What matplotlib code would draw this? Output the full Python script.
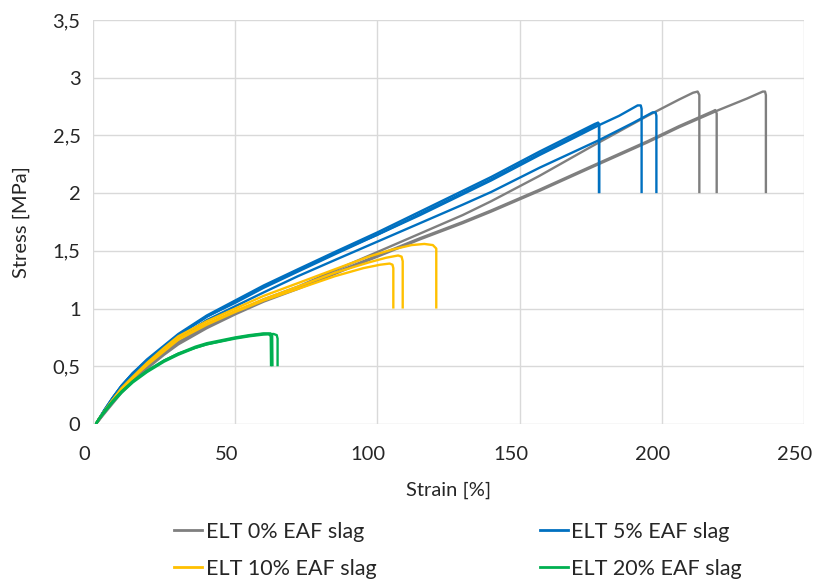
import matplotlib
matplotlib.use("Agg")
import matplotlib.pyplot as plt
import matplotlib.transforms as mtransforms
from matplotlib.ticker import FuncFormatter
from matplotlib.lines import Line2D

plt.rcParams['font.family'] = ['Lato', 'DejaVu Sans']

# ---------------- data (strain %, stress MPa) ----------------
series_labels = ["ELT 0% EAF slag", "ELT 5% EAF slag", "ELT 10% EAF slag", "ELT 20% EAF slag"]
series_colors = ["#7F7F7F", "#0070C0", "#FFC000", "#00B050"]

# ELT 0% EAF slag (3 specimens)
g1_strain = [1, 2, 4, 7, 10, 14, 19, 25, 30, 40, 50, 60, 72, 85, 100, 115, 130, 140, 157, 175, 195, 206, 211, 212.6, 213.2, 213.2]
g1_stress = [0, 0.03, 0.10, 0.20, 0.29, 0.39, 0.50, 0.62, 0.71, 0.85, 0.97, 1.08, 1.19, 1.33, 1.49, 1.65, 1.81, 1.93, 2.15, 2.40, 2.67, 2.81, 2.87, 2.88, 2.85, 2.0]
g2_strain = [1, 2, 4, 7, 10, 14, 19, 25, 30, 40, 50, 60, 72, 85, 100, 115, 130, 140, 157, 175, 195, 206, 218, 218.8, 219.3, 219.3]
g2_stress = [0, 0.03, 0.10, 0.19, 0.28, 0.38, 0.49, 0.61, 0.70, 0.84, 0.96, 1.07, 1.18, 1.31, 1.46, 1.61, 1.75, 1.85, 2.03, 2.23, 2.45, 2.58, 2.71, 2.72, 2.69, 2.0]
g3_strain = [1, 2, 4, 7, 10, 14, 19, 25, 30, 40, 50, 60, 72, 85, 100, 115, 130, 140, 157, 175, 195, 206, 220, 230, 235.5, 236.3, 236.6, 236.6]
g3_stress = [0, 0.03, 0.09, 0.18, 0.27, 0.37, 0.48, 0.60, 0.69, 0.83, 0.95, 1.06, 1.17, 1.30, 1.45, 1.60, 1.74, 1.84, 2.02, 2.22, 2.44, 2.57, 2.72, 2.82, 2.88, 2.88, 2.85, 2.0]

# ELT 5% EAF slag (4 specimens)
b1_strain = [1, 2, 4, 7, 10, 14, 19, 25, 30, 40, 50, 60, 72, 85, 100, 115, 130, 140, 157, 170, 176.5, 177.6, 177.9, 177.9]
b1_stress = [0, 0.04, 0.12, 0.23, 0.33, 0.44, 0.56, 0.68, 0.78, 0.94, 1.07, 1.20, 1.34, 1.49, 1.66, 1.84, 2.02, 2.14, 2.36, 2.52, 2.60, 2.61, 2.59, 2.0]
b2_strain = [1, 2, 4, 7, 10, 14, 19, 25, 30, 40, 50, 60, 72, 85, 100, 115, 130, 140, 157, 170, 176.5, 177.6, 178.0, 178.0]
b2_stress = [0, 0.04, 0.12, 0.23, 0.33, 0.44, 0.55, 0.67, 0.77, 0.93, 1.06, 1.19, 1.33, 1.48, 1.64, 1.82, 2.00, 2.12, 2.34, 2.50, 2.59, 2.61, 2.59, 2.0]
b3_strain = [1, 2, 4, 7, 10, 14, 19, 25, 30, 40, 50, 60, 72, 85, 100, 115, 130, 140, 157, 170, 178, 185, 191.5, 192.6, 192.9, 192.9]
b3_stress = [0, 0.04, 0.12, 0.23, 0.33, 0.44, 0.55, 0.67, 0.77, 0.93, 1.05, 1.18, 1.32, 1.47, 1.64, 1.81, 1.99, 2.11, 2.33, 2.49, 2.59, 2.67, 2.76, 2.76, 2.73, 2.0]
b4_strain = [1, 2, 4, 7, 10, 14, 19, 25, 30, 40, 50, 60, 72, 85, 100, 115, 130, 140, 157, 178, 190, 196.8, 197.8, 198.1, 198.1]
b4_stress = [0, 0.04, 0.11, 0.22, 0.32, 0.42, 0.53, 0.65, 0.74, 0.90, 1.02, 1.14, 1.28, 1.42, 1.58, 1.74, 1.90, 2.01, 2.22, 2.46, 2.61, 2.70, 2.70, 2.67, 2.0]

# ELT 10% EAF slag (3 specimens)
y1_strain = [1, 2, 4, 7, 10, 14, 19, 25, 30, 40, 50, 60, 72, 85, 97, 105, 112, 116.5, 119.5, 120.7, 120.7]
y1_stress = [0, 0.04, 0.11, 0.21, 0.31, 0.41, 0.53, 0.66, 0.76, 0.89, 1.00, 1.11, 1.22, 1.34, 1.45, 1.51, 1.55, 1.56, 1.55, 1.52, 1.0]
y2_strain = [1, 2, 4, 7, 10, 14, 19, 25, 30, 40, 50, 60, 72, 85, 97, 103, 107.3, 108.5, 108.9, 108.9]
y2_stress = [0, 0.04, 0.11, 0.21, 0.30, 0.40, 0.52, 0.64, 0.74, 0.87, 0.98, 1.08, 1.19, 1.31, 1.40, 1.44, 1.46, 1.45, 1.41, 1.0]
y3_strain = [1, 2, 4, 7, 10, 14, 19, 25, 30, 40, 50, 60, 72, 85, 95, 101, 104.3, 105.3, 105.6, 105.6]
y3_stress = [0, 0.04, 0.11, 0.21, 0.30, 0.40, 0.51, 0.63, 0.73, 0.86, 0.97, 1.07, 1.17, 1.28, 1.35, 1.38, 1.39, 1.38, 1.35, 1.0]

# ELT 20% EAF slag (3 specimens)
e1_strain = [1, 2, 4, 7, 10, 14, 19, 25, 30, 36, 40, 50, 55, 59.5, 61.8, 62.5, 62.6]
e1_stress = [0, 0.04, 0.11, 0.20, 0.28, 0.37, 0.46, 0.55, 0.61, 0.66, 0.69, 0.745, 0.765, 0.78, 0.78, 0.76, 0.5]
e2_strain = [1, 2, 4, 7, 10, 14, 19, 25, 30, 36, 40, 50, 55, 60, 62.4, 63.0, 63.1]
e2_stress = [0, 0.04, 0.11, 0.20, 0.28, 0.37, 0.46, 0.55, 0.61, 0.67, 0.70, 0.75, 0.77, 0.785, 0.785, 0.765, 0.5]
e3_strain = [1, 2, 4, 7, 10, 14, 19, 25, 30, 36, 40, 50, 55, 60, 63.5, 64.6, 64.9, 64.9]
e3_stress = [0, 0.04, 0.10, 0.19, 0.27, 0.36, 0.45, 0.54, 0.60, 0.66, 0.69, 0.74, 0.76, 0.775, 0.78, 0.77, 0.74, 0.5]

curves = [
    (0, g1_strain, g1_stress), (0, g2_strain, g2_stress), (0, g3_strain, g3_stress),
    (1, b1_strain, b1_stress), (1, b2_strain, b2_stress), (1, b3_strain, b3_stress), (1, b4_strain, b4_stress),
    (2, y1_strain, y1_stress), (2, y2_strain, y2_stress), (2, y3_strain, y3_stress),
    (3, e1_strain, e1_stress), (3, e2_strain, e2_stress), (3, e3_strain, e3_stress),
]

x_ticks = [0, 50, 100, 150, 200, 250]
y_ticks = [0, 0.5, 1, 1.5, 2, 2.5, 3, 3.5]

# ---------------- figure ----------------
fig = plt.figure(figsize=(8.15, 5.81), dpi=100)
ax = fig.add_axes([93 / 815, 157 / 581, 711 / 815, 404 / 581])

for idx, xs, ys in curves:
    ax.plot(xs, ys, color=series_colors[idx], lw=1.7, solid_joinstyle='round', solid_capstyle='butt')

ax.set_xlim(0, 250)
ax.set_ylim(0, 3.5)
ax.set_xticks(x_ticks)
ax.set_yticks(y_ticks)
ax.yaxis.set_major_formatter(FuncFormatter(lambda v, p: ('%g' % v).replace('.', ',')))
ax.grid(True, color='#D9D9D9', lw=1)
ax.set_axisbelow(True)
for s in ax.spines.values():
    s.set_visible(False)
ax.tick_params(axis='y', length=0, labelsize=14.5, colors='#262626', pad=9)
ax.tick_params(axis='x', length=0, labelsize=14.5, colors='#262626', pad=16)
# x tick labels sit slightly left of their gridlines in the reference
shift = mtransforms.ScaledTranslation(-9 / 100, 0, fig.dpi_scale_trans)
for lbl in ax.get_xticklabels():
    lbl.set_transform(lbl.get_transform() + shift)
ax.set_xlabel('Strain [%]', fontsize=14.5, color='#262626', labelpad=13)
ax.set_ylabel('Stress [MPa]', fontsize=14.5, color='#262626', labelpad=16)

handles = [Line2D([], [], color=c, lw=2) for c in series_colors]
order = [0, 2, 1, 3]
fig.legend([handles[i] for i in order], [series_labels[i] for i in order],
           loc='center', bbox_to_anchor=(0.562, 0.053), ncol=2, frameon=False,
           fontsize=15.5, handlelength=1.3, handletextpad=0.15, columnspacing=7.6,
           labelspacing=0.8, labelcolor='#262626')

fig.savefig('out.png', dpi=100)
